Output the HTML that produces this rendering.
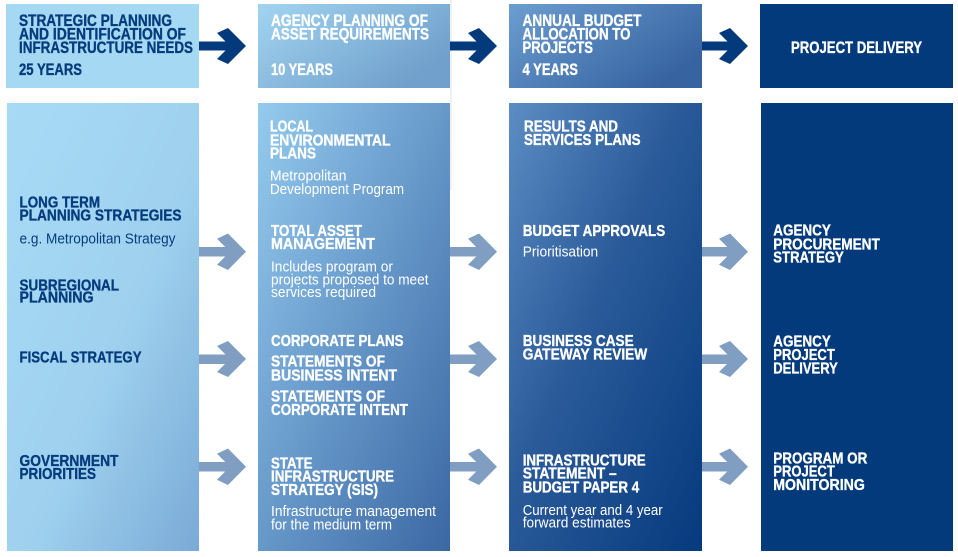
<!DOCTYPE html>
<html>
<head>
<meta charset="utf-8">
<style>
  html,body{margin:0;padding:0;background:#fff;}
  svg{display:block;}
  .b{font-family:"Liberation Sans Narrow","Liberation Sans",sans-serif;font-weight:bold;font-size:16px;stroke-width:0.35px;}
  .h{font-family:"Liberation Sans Narrow","Liberation Sans",sans-serif;font-weight:bold;font-size:16.5px;stroke-width:0.35px;}
  .r{font-family:"Liberation Sans Narrow","Liberation Sans",sans-serif;font-weight:normal;font-size:15px;}
  .n{fill:#063b7d;}
  .b.n,.h.n{stroke:#063b7d;}
  .w{fill:#ffffff;}
  .b.w,.h.w{stroke:#ffffff;}
</style>
</head>
<body>
<svg width="958" height="557" viewBox="0 0 958 557" xmlns="http://www.w3.org/2000/svg">
  <defs>
    <linearGradient id="g1b" x1="0" y1="0" x2="1" y2="1">
      <stop offset="0" stop-color="#a7dbf5"/>
      <stop offset="0.55" stop-color="#9fd1ef"/>
      <stop offset="1" stop-color="#7aaad6"/>
    </linearGradient>
    <linearGradient id="g2t" x1="0" y1="0" x2="1" y2="0.6">
      <stop offset="0" stop-color="#a2d4f1"/>
      <stop offset="1" stop-color="#70a0cb"/>
    </linearGradient>
    <linearGradient id="g2b" x1="0" y1="0" x2="1" y2="1">
      <stop offset="0" stop-color="#95cbee"/>
      <stop offset="0.45" stop-color="#6b9dcd"/>
      <stop offset="1" stop-color="#3b67a3"/>
    </linearGradient>
    <linearGradient id="g3t" x1="0" y1="0" x2="1" y2="0.6">
      <stop offset="0" stop-color="#6c9ed0"/>
      <stop offset="1" stop-color="#3764a1"/>
    </linearGradient>
    <linearGradient id="g3b" x1="0" y1="0" x2="1" y2="1">
      <stop offset="0" stop-color="#5c8dc3"/>
      <stop offset="0.45" stop-color="#2a5a99"/>
      <stop offset="1" stop-color="#053a7e"/>
    </linearGradient>
  </defs>

  <!-- faint guide line -->
  <line x1="451" y1="0" x2="451" y2="190" stroke="#e2e2e2" stroke-width="1"/>

  <!-- top row boxes -->
  <rect x="6" y="4" width="193" height="84" fill="#a4d8f3"/>
  <rect x="258" y="4" width="192" height="84" fill="url(#g2t)"/>
  <rect x="509" y="4" width="193" height="84" fill="url(#g3t)"/>
  <rect x="760" y="4" width="193" height="84" fill="#033a7c"/>

  <!-- bottom row boxes -->
  <rect x="7" y="103" width="192" height="448" fill="url(#g1b)"/>
  <rect x="258" y="103" width="192" height="448" fill="url(#g2b)"/>
  <rect x="509" y="103" width="193" height="448" fill="url(#g3b)"/>
  <rect x="761" y="103" width="192" height="448" fill="#033a7c"/>

  <!-- top arrows (dark) -->
  <g fill="#033a7c">
    <rect x="199" y="41.5" width="33" height="9"/>
    <polygon points="228,28 246,46 228,64 217,59 230,46 217,33"/>
    <rect x="450" y="41.5" width="33" height="9"/>
    <polygon points="479,28 497,46 479,64 468,59 481,46 468,33"/>
    <rect x="702" y="41.5" width="32" height="9"/>
    <polygon points="730,28 748,46 730,64 719,59 732,46 719,33"/>
  </g>

  <!-- bottom arrows (light) -->
  <g fill="#7f9ec2">
    <rect x="199" y="247" width="33" height="9.5"/>
    <polygon points="228,233.5 246,251.7 228,270 217,264.7 230,251.7 217,238.7"/>
    <rect x="199" y="354.5" width="33" height="9.5"/>
    <polygon points="228,341 246,359 228,377 217,372 230,359 217,346"/>
    <rect x="199" y="462" width="33" height="9.5"/>
    <polygon points="228,448.5 246,466.7 228,485 217,479.7 230,466.7 217,453.7"/>

    <rect x="450" y="247" width="33" height="9.5"/>
    <polygon points="479,233.5 497,251.7 479,270 468,264.7 481,251.7 468,238.7"/>
    <rect x="450" y="354.5" width="33" height="9.5"/>
    <polygon points="479,341 497,359 479,377 468,372 481,359 468,346"/>
    <rect x="450" y="462" width="33" height="9.5"/>
    <polygon points="479,448.5 497,466.7 479,485 468,479.7 481,466.7 468,453.7"/>

    <rect x="702" y="247" width="32" height="9.5"/>
    <polygon points="730,233.5 748,251.7 730,270 719,264.7 732,251.7 719,238.7"/>
    <rect x="702" y="354.5" width="32" height="9.5"/>
    <polygon points="730,341 748,359 730,377 719,372 732,359 719,346"/>
    <rect x="702" y="462" width="32" height="9.5"/>
    <polygon points="730,448.5 748,466.7 730,485 719,479.7 732,466.7 719,453.7"/>
  </g>

  <!-- Column 1 top -->
  <text class="h n" x="19" y="26" textLength="153" lengthAdjust="spacingAndGlyphs">STRATEGIC PLANNING</text>
  <text class="h n" x="19" y="39.5" textLength="167" lengthAdjust="spacingAndGlyphs">AND IDENTIFICATION OF</text>
  <text class="h n" x="19" y="53" textLength="174" lengthAdjust="spacingAndGlyphs">INFRASTRUCTURE NEEDS</text>
  <text class="h n" x="19" y="75" textLength="63" lengthAdjust="spacingAndGlyphs">25 YEARS</text>

  <!-- Column 2 top -->
  <text class="h w" x="271" y="26" textLength="157" lengthAdjust="spacingAndGlyphs">AGENCY PLANNING OF</text>
  <text class="h w" x="271" y="39.5" textLength="158" lengthAdjust="spacingAndGlyphs">ASSET REQUIREMENTS</text>
  <text class="h w" x="271" y="75" textLength="62" lengthAdjust="spacingAndGlyphs">10 YEARS</text>

  <!-- Column 3 top -->
  <text class="h w" x="522.5" y="26" textLength="119" lengthAdjust="spacingAndGlyphs">ANNUAL BUDGET</text>
  <text class="h w" x="522.5" y="39.5" textLength="108" lengthAdjust="spacingAndGlyphs">ALLOCATION TO</text>
  <text class="h w" x="522.5" y="53" textLength="70.5" lengthAdjust="spacingAndGlyphs">PROJECTS</text>
  <text class="h w" x="522.5" y="75" textLength="55.5" lengthAdjust="spacingAndGlyphs">4 YEARS</text>

  <!-- Column 4 top -->
  <text class="h w" x="791" y="53" textLength="131" lengthAdjust="spacingAndGlyphs">PROJECT DELIVERY</text>

  <!-- Column 1 bottom -->
  <text class="b n" x="19.5" y="207.3" textLength="80.5" lengthAdjust="spacingAndGlyphs">LONG TERM</text>
  <text class="b n" x="19.5" y="220.7" textLength="162" lengthAdjust="spacingAndGlyphs">PLANNING STRATEGIES</text>
  <text class="r n" x="19.5" y="243.3" textLength="156" lengthAdjust="spacingAndGlyphs">e.g. Metropolitan Strategy</text>
  <text class="b n" x="19.5" y="290.7" textLength="99.5" lengthAdjust="spacingAndGlyphs">SUBREGIONAL</text>
  <text class="b n" x="19.5" y="302.7" textLength="74" lengthAdjust="spacingAndGlyphs">PLANNING</text>
  <text class="b n" x="19.5" y="362.3" textLength="122" lengthAdjust="spacingAndGlyphs">FISCAL STRATEGY</text>
  <text class="b n" x="19.5" y="466" textLength="99" lengthAdjust="spacingAndGlyphs">GOVERNMENT</text>
  <text class="b n" x="19.5" y="479" textLength="76.5" lengthAdjust="spacingAndGlyphs">PRIORITIES</text>

  <!-- Column 2 bottom -->
  <text class="b w" x="270" y="131.7" textLength="43" lengthAdjust="spacingAndGlyphs">LOCAL</text>
  <text class="b w" x="270" y="145.3" textLength="120.5" lengthAdjust="spacingAndGlyphs">ENVIRONMENTAL</text>
  <text class="b w" x="270" y="158.3" textLength="46" lengthAdjust="spacingAndGlyphs">PLANS</text>
  <text class="r w" x="270" y="180.7" textLength="76.5" lengthAdjust="spacingAndGlyphs">Metropolitan</text>
  <text class="r w" x="270" y="194" textLength="134" lengthAdjust="spacingAndGlyphs">Development Program</text>
  <text class="b w" x="271" y="236" textLength="91" lengthAdjust="spacingAndGlyphs">TOTAL ASSET</text>
  <text class="b w" x="271" y="249" textLength="104" lengthAdjust="spacingAndGlyphs">MANAGEMENT</text>
  <text class="r w" x="271" y="271.5" textLength="122" lengthAdjust="spacingAndGlyphs">Includes program or</text>
  <text class="r w" x="271" y="284.3" textLength="157.5" lengthAdjust="spacingAndGlyphs">projects proposed to meet</text>
  <text class="r w" x="271" y="296.8" textLength="105" lengthAdjust="spacingAndGlyphs">services required</text>
  <text class="b w" x="271" y="346" textLength="132.5" lengthAdjust="spacingAndGlyphs">CORPORATE PLANS</text>
  <text class="b w" x="271" y="366.7" textLength="114" lengthAdjust="spacingAndGlyphs">STATEMENTS OF</text>
  <text class="b w" x="271" y="380.7" textLength="126" lengthAdjust="spacingAndGlyphs">BUSINESS INTENT</text>
  <text class="b w" x="271" y="401.5" textLength="114" lengthAdjust="spacingAndGlyphs">STATEMENTS OF</text>
  <text class="b w" x="271" y="415" textLength="137" lengthAdjust="spacingAndGlyphs">CORPORATE INTENT</text>
  <text class="b w" x="271" y="468.3" textLength="41.5" lengthAdjust="spacingAndGlyphs">STATE</text>
  <text class="b w" x="271" y="481.7" textLength="123" lengthAdjust="spacingAndGlyphs">INFRASTRUCTURE</text>
  <text class="b w" x="271" y="495" textLength="107" lengthAdjust="spacingAndGlyphs">STRATEGY (SIS)</text>
  <text class="r w" x="271" y="516" textLength="165" lengthAdjust="spacingAndGlyphs">Infrastructure management</text>
  <text class="r w" x="271" y="529.5" textLength="121" lengthAdjust="spacingAndGlyphs">for the medium term</text>

  <!-- Column 3 bottom -->
  <text class="b w" x="524" y="131.7" textLength="94" lengthAdjust="spacingAndGlyphs">RESULTS AND</text>
  <text class="b w" x="524" y="145" textLength="116.5" lengthAdjust="spacingAndGlyphs">SERVICES PLANS</text>
  <text class="b w" x="522.7" y="236" textLength="142.5" lengthAdjust="spacingAndGlyphs">BUDGET APPROVALS</text>
  <text class="r w" x="522.7" y="256.7" textLength="75.5" lengthAdjust="spacingAndGlyphs">Prioritisation</text>
  <text class="b w" x="522.7" y="346" textLength="111" lengthAdjust="spacingAndGlyphs">BUSINESS CASE</text>
  <text class="b w" x="522.7" y="359.3" textLength="124.5" lengthAdjust="spacingAndGlyphs">GATEWAY REVIEW</text>
  <text class="b w" x="522.7" y="465.7" textLength="123" lengthAdjust="spacingAndGlyphs">INFRASTRUCTURE</text>
  <text class="b w" x="522.7" y="478.3" textLength="94" lengthAdjust="spacingAndGlyphs">STATEMENT –</text>
  <text class="b w" x="522.7" y="492.3" textLength="116.5" lengthAdjust="spacingAndGlyphs">BUDGET PAPER 4</text>
  <text class="r w" x="522.7" y="515" textLength="140" lengthAdjust="spacingAndGlyphs">Current year and 4 year</text>
  <text class="r w" x="522.7" y="527.3" textLength="108" lengthAdjust="spacingAndGlyphs">forward estimates</text>

  <!-- Column 4 bottom -->
  <text class="b w" x="773.3" y="235.7" textLength="57.5" lengthAdjust="spacingAndGlyphs">AGENCY</text>
  <text class="b w" x="773.3" y="249.3" textLength="106.5" lengthAdjust="spacingAndGlyphs">PROCUREMENT</text>
  <text class="b w" x="773.3" y="262.7" textLength="70.5" lengthAdjust="spacingAndGlyphs">STRATEGY</text>
  <text class="b w" x="773.3" y="346.7" textLength="57.5" lengthAdjust="spacingAndGlyphs">AGENCY</text>
  <text class="b w" x="773.3" y="360" textLength="61.5" lengthAdjust="spacingAndGlyphs">PROJECT</text>
  <text class="b w" x="773.3" y="373.3" textLength="64.5" lengthAdjust="spacingAndGlyphs">DELIVERY</text>
  <text class="b w" x="773.3" y="463.3" textLength="94" lengthAdjust="spacingAndGlyphs">PROGRAM OR</text>
  <text class="b w" x="773.3" y="476.7" textLength="61.5" lengthAdjust="spacingAndGlyphs">PROJECT</text>
  <text class="b w" x="773.3" y="490" textLength="91.5" lengthAdjust="spacingAndGlyphs">MONITORING</text>
</svg>
</body>
</html>
